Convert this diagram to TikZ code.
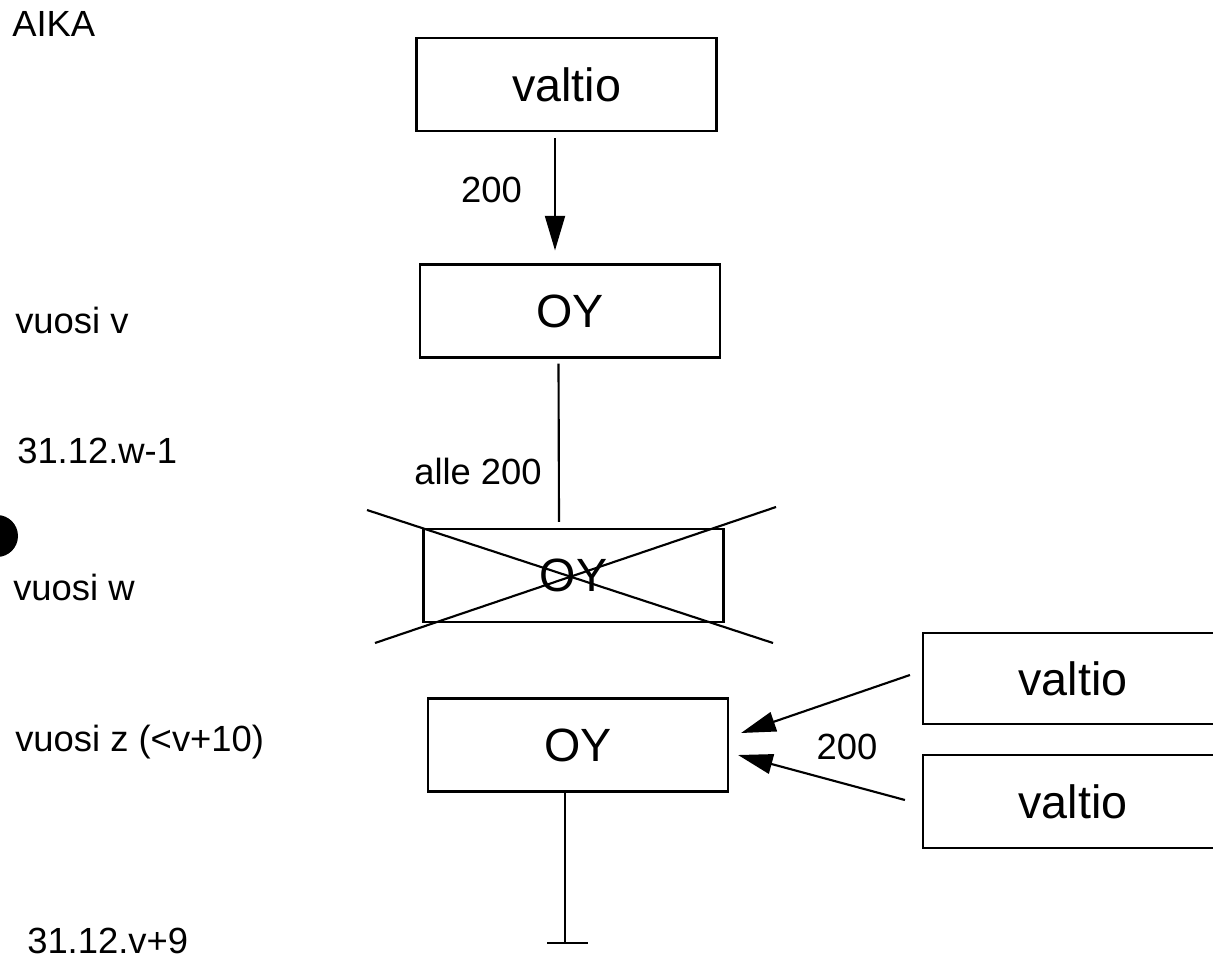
\documentclass[tikz,border=0pt]{standalone}
\usepackage{fontspec}
\setmainfont{Liberation Sans}
\usetikzlibrary{calc,positioning,arrows.meta}

\begin{document}
\begin{tikzpicture}[x=0.75pt,y=-0.75pt]
\tikzstyle{every node}=[inner sep=0pt]
\tikzstyle{box}=[draw, line width=1.6pt, minimum width=225pt, minimum height=69.75pt, font=\fontsize{35}{42}\selectfont]
\tikzstyle{lbl}=[font=\fontsize{27.3}{32}\selectfont]
\tikzstyle{arr}=[draw, line width=1.6pt, -{Triangle[length=26pt,width=15pt]}]
\tikzstyle{ln}=[draw, line width=1.6pt]

\clip (0,0) rectangle (1213,959);

% time axis on the left
\node[lbl, anchor=base west] (aika) at (12,37) {AIKA};
\node[lbl, anchor=base west] (vv) at (15,333) {vuosi v};
\node[lbl, anchor=base west] (dw) at (17,463) {31.12.w-1};
\node[lbl, anchor=base west] (vw) at (13,600) {vuosi w};
\node[lbl, anchor=base west] (vz) at (15,751) {vuosi z (<v+10)};
\node[lbl, anchor=base west] (dv) at (27,953) {31.12.v+9};

% boxes
\node[box] (V1) at (566.5,84.5) {valtio};
\node[box] (OY1) at (570,311) {OY};
\node[box] (OYx) at (573.5,575.5) {OY};
\node[box] (OY3) at (578,745) {OY};
\node[box, minimum height=68.25pt] (VA) at (1073,678.5) {valtio};
\node[box] (VB) at (1073,801.5) {valtio};
\coordinate (T) at (565,943);

\draw[arr] ($(V1.south)+(-11.5,6)$) -- node[lbl, left=24pt, pos=0.46] {200} ($(OY1.north)+(-15,-13)$);
\draw[ln] ($(OY1.south)+(-11.5,5)$) -- node[lbl, left=12pt, pos=0.68] {alle 200} ($(OYx.north)+(-14.5,-6)$);

% crossed out
\draw[ln] ($(OYx)+(-206.5,-65.5)$) -- ($(OYx)+(199.5,67.5)$);
\draw[ln] ($(OYx)+(-198.5,67.5)$) -- ($(OYx)+(202.5,-68.5)$);

\draw[arr] ($(VA.west)+(-12,-3.5)$) -- ($(OY3.east)+(12,-12)$);
\draw[arr] ($(VB.west)+(-17,-1.5)$) -- ($(OY3.east)+(9,10)$);
\node[lbl] (l200) at (847,747) {200};

\draw[ln] ($(OY3.south)+(-13,0)$) -- (T);
\draw[ln] ($(T)+(-18,0)$) -- ($(T)+(23,0)$);

\fill (-3,536) ellipse [x radius=15.75pt, y radius=15.75pt];
\end{tikzpicture}
\end{document}
